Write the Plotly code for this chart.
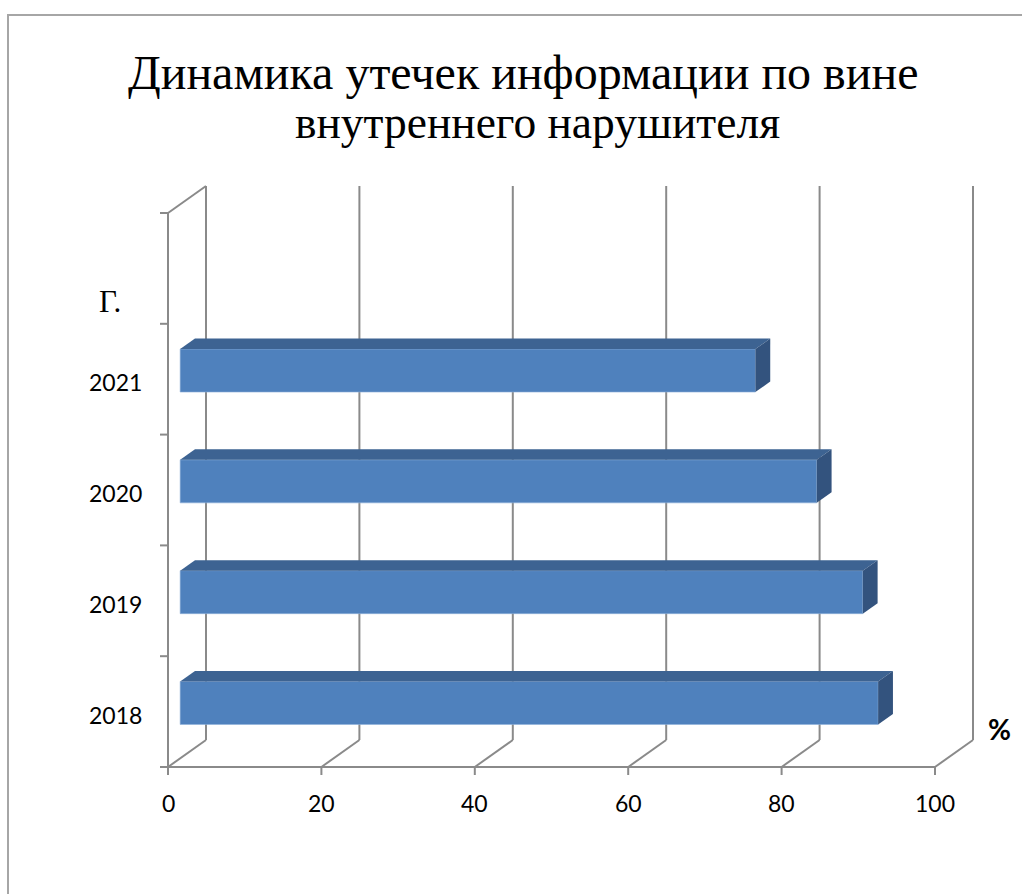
import plotly.graph_objects as go

# ---- data -------------------------------------------------------------
years = ["2018", "2019", "2020", "2021"]
shares = [91, 89, 83, 75]                 # % of leaks caused by insiders
x_ticks = [0, 20, 40, 60, 80, 100]
x_tick_labels = ["0", "20", "40", "60", "80", "100"]
n_slots = 5                               # category slots on the vertical axis
title_lines = ["Динамика утечек информации по вине", "внутреннего нарушителя"]
x_unit = "%"
y_unit = "Г."

# ---- geometry of the pseudo-3D box -----------------------------------
W, H = 1022, 894
X0_PX, X100_PX = 168, 935          # front floor edge, value 0 and 100
Y0_PX, SLOT_PX = 767, 110.8        # floor line and height of one category slot
px_x = (X100_PX - X0_PX) / 100.0
x_range = [-X0_PX / px_x, (W - X0_PX) / px_x]
y_range = [-(H - Y0_PX) / SLOT_PX, Y0_PX / SLOT_PX]

DX = 38 / px_x          # depth vector of the box, in axis units
DY = 27 / SLOT_PX
F1, F2 = 0.32, 0.71     # front/back depth of the bars as a share of box depth
HALF = 0.194            # half thickness of a bar, in slots

GRID = "#8a8a8a"
FRONT = "#4F81BD"
TOP = "#3D6392"
SIDE = "#33537E"
SANS = "Lato, 'Open Sans', sans-serif"
SERIF = "Liberation Serif"

fig = go.Figure()

# front faces of the bars
fig.add_trace(go.Bar(
    y=[i + 0.5 + F1 * DY for i in range(len(years))],
    x=shares,
    base=F1 * DX,
    orientation="h",
    width=2 * HALF,
    marker=dict(color=FRONT, line=dict(width=0.6, color="#8fb0da")),
    hoverinfo="skip",
    showlegend=False,
))

# top and right faces of the bars
for i, v in enumerate(shares):
    yb = i + 0.5 - HALF
    yt = i + 0.5 + HALF
    top_x = [F1 * DX, v + F1 * DX, v + F2 * DX, F2 * DX, F1 * DX]
    top_y = [yt + F1 * DY, yt + F1 * DY, yt + F2 * DY, yt + F2 * DY, yt + F1 * DY]
    side_x = [v + F1 * DX, v + F2 * DX, v + F2 * DX, v + F1 * DX, v + F1 * DX]
    side_y = [yb + F1 * DY, yb + F2 * DY, yt + F2 * DY, yt + F1 * DY, yb + F1 * DY]
    for xs, ys, col in ((top_x, top_y, TOP), (side_x, side_y, SIDE)):
        fig.add_trace(go.Scatter(
            x=xs, y=ys, mode="lines", fill="toself", fillcolor=col,
            line=dict(width=0, color=col), hoverinfo="skip", showlegend=False,
        ))

# walls, floor and ticks of the box
shapes = []


def seg(x0, y0, x1, y1):
    shapes.append(dict(type="line", xref="x", yref="y", x0=x0, y0=y0, x1=x1, y1=y1,
                       line=dict(color=GRID, width=2), layer="below"))


tick_x = 8 / SLOT_PX
tick_y = 8 / px_x
for v in x_ticks:
    seg(v + DX, DY, v + DX, n_slots + DY)     # back wall gridline
    seg(v, 0, v + DX, DY)                     # floor diagonal
    seg(v, 0, v, -tick_x)                     # tick mark
seg(x_ticks[0], 0, x_ticks[-1], 0)           # front floor edge
seg(0, 0, 0, n_slots)                        # left wall front edge
seg(0, n_slots, DX, n_slots + DY)            # left wall top edge
for k in range(n_slots + 1):
    seg(0, k, -tick_y, k)

# chart frame
shapes.append(dict(type="rect", xref="paper", yref="paper",
                   x0=8 / W, x1=1.05, y0=-0.05, y1=1 - 15 / H,
                   line=dict(color="#a6a6a6", width=2), layer="below"))

annotations = []
for i, yr in enumerate(years):
    annotations.append(dict(x=0, y=i + 0.5, xref="x", yref="y", text=yr,
                            xanchor="right", yanchor="middle", xshift=-24, yshift=-3,
                            showarrow=False, font=dict(family=SANS, size=23, color="#000")))
for v, lab in zip(x_ticks, x_tick_labels):
    annotations.append(dict(x=v, y=0, xref="x", yref="y", text=lab,
                            xanchor="center", yanchor="middle", yshift=-36,
                            showarrow=False, font=dict(family=SANS, size=23, color="#000")))
annotations.append(dict(x=x_ticks[-1] + DX, y=DY, xref="x", yref="y", text="<b>" + x_unit + "</b>",
                        xanchor="center", yanchor="middle", xshift=26, yshift=11,
                        showarrow=False, font=dict(family=SANS, size=28, color="#000")))
annotations.append(dict(x=110 / W, y=1 - 301 / H, xref="paper", yref="paper", text=y_unit,
                        xanchor="center", yanchor="middle", showarrow=False,
                        font=dict(family=SERIF, size=31, color="#000")))
for line, cx, cy, fs in zip(title_lines, (523, 537), (72, 123), (48, 45.5)):
    annotations.append(dict(x=cx / W, y=1 - cy / H, xref="paper", yref="paper", text=line,
                            xanchor="center", yanchor="middle", showarrow=False,
                            font=dict(family=SERIF, size=fs, color="#000")))

fig.update_layout(
    width=W, height=H, autosize=False,
    margin=dict(l=0, r=0, t=0, b=0),
    paper_bgcolor="white", plot_bgcolor="white",
    xaxis=dict(range=x_range, visible=False, fixedrange=True),
    yaxis=dict(range=y_range, visible=False, fixedrange=True),
    shapes=shapes, annotations=annotations,
    hovermode=False, showlegend=False, barmode="overlay",
)

fig.write_html("out.html")
